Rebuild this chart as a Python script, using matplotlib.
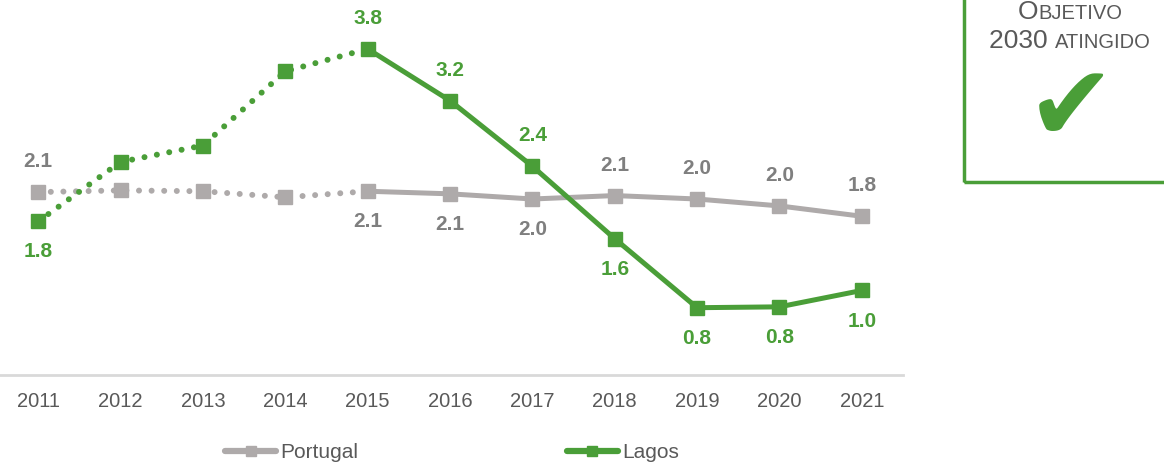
import matplotlib.pyplot as plt
from matplotlib.lines import Line2D

plt.rcParams["font.family"] = ["Liberation Sans", "DejaVu Sans"]

years = ["2011", "2012", "2013", "2014", "2015", "2016", "2017", "2018", "2019", "2020", "2021"]
portugal = [2.12, 2.14, 2.13, 2.06, 2.13, 2.10, 2.04, 2.08, 2.04, 1.96, 1.84]
lagos = [1.78, 2.47, 2.66, 3.52, 3.78, 3.18, 2.42, 1.58, 0.78, 0.79, 0.98]

# which points get a value label, and on which side (+1 above, -1 below)
portugal_labels = {0: 1, 4: -1, 5: -1, 6: -1, 7: 1, 8: 1, 9: 1, 10: 1}
lagos_labels = {0: -1, 4: 1, 5: 1, 6: 1, 7: -1, 8: -1, 9: -1, 10: -1}

GREEN = "#4a9e38"
GREY = "#aeaaaa"
GREY_TXT = "#7f7f7f"
SPLIT = 4  # dotted up to 2015, solid afterwards

fig = plt.figure(figsize=(11.64, 4.66), dpi=100)
ax = fig.add_axes([-3 / 1164, 0.1953, 906 / 1164, 0.796])
x = list(range(len(years)))

for vals, col, z in [(portugal, GREY, 2), (lagos, GREEN, 3)]:
    ax.plot(x[: SPLIT + 1], vals[: SPLIT + 1], color=col, lw=4.3,
            linestyle=(0, (0.01, 2.1)), dash_capstyle="round", zorder=z)
    ax.plot(x[SPLIT:], vals[SPLIT:], color=col, lw=3.6, zorder=z)
    ax.plot(x, vals, ls="none", marker="s", ms=10, color=col, zorder=z + 0.5)

for labels, vals, col in [(portugal_labels, portugal, GREY_TXT), (lagos_labels, lagos, GREEN)]:
    for i, side in labels.items():
        ax.annotate(f"{vals[i]:.1f}", (x[i], vals[i]), xytext=(0, 22 * side),
                    textcoords="offset points", ha="center", va="center",
                    fontsize=15, fontweight="bold", color=col)

ax.set_xlim(-0.5, len(years) - 0.5)
ax.set_ylim(0, 4.3)
ax.set_xticks(x)
ax.set_xticklabels(years)
ax.set_yticks([])
ax.tick_params(axis="x", length=0, pad=12, labelsize=14.5, labelcolor="#595959")
for s in ["top", "right", "left"]:
    ax.spines[s].set_visible(False)
ax.spines["bottom"].set_color("#d9d9d9")
ax.spines["bottom"].set_linewidth(2)

handles = [
    Line2D([], [], color=GREY, lw=4.5, marker="s", ms=7, solid_capstyle="round"),
    Line2D([], [], color=GREEN, lw=4.5, marker="s", ms=7, solid_capstyle="round"),
]
fig.legend(handles, ["Portugal", "Lagos"], loc="center", bbox_to_anchor=(452 / 1164, 1 - 453 / 466),
           ncol=2, frameon=False, fontsize=15, handlelength=2.45, handletextpad=0.2,
           columnspacing=10.0, labelcolor="#595959")

# target box on the right
box = plt.Rectangle((964 / 1164, 1 - 182 / 466), 0.3, 0.5, transform=fig.transFigure,
                    fill=False, edgecolor=GREEN, lw=2.5)
fig.add_artist(box)

fig.canvas.draw()
r = fig.canvas.get_renderer()


def small_caps(parts, cx, y):
    # parts: list of (text, size); drawn side by side on one baseline, centred on cx
    items = [fig.text(0, y, t, fontsize=s, color="#595959", va="baseline") for t, s in parts]
    widths = [it.get_window_extent(r).width for it in items]
    left = cx * 1164 - sum(widths) / 2
    for it, w in zip(items, widths):
        it.set_x(left / 1164)
        left += w


small_caps([("O", 19), ("BJETIVO", 14.5)], 1070 / 1164, 1 - 19 / 466)
small_caps([("2030 ", 19), ("ATINGIDO", 14.5)], 1070 / 1164, 1 - 48 / 466)
fig.text(1071 / 1164, 1 - 111 / 466, "\u2714", fontsize=76, color=GREEN,
         ha="center", va="center", family="DejaVu Sans")

fig.savefig("out.png", dpi=100)
